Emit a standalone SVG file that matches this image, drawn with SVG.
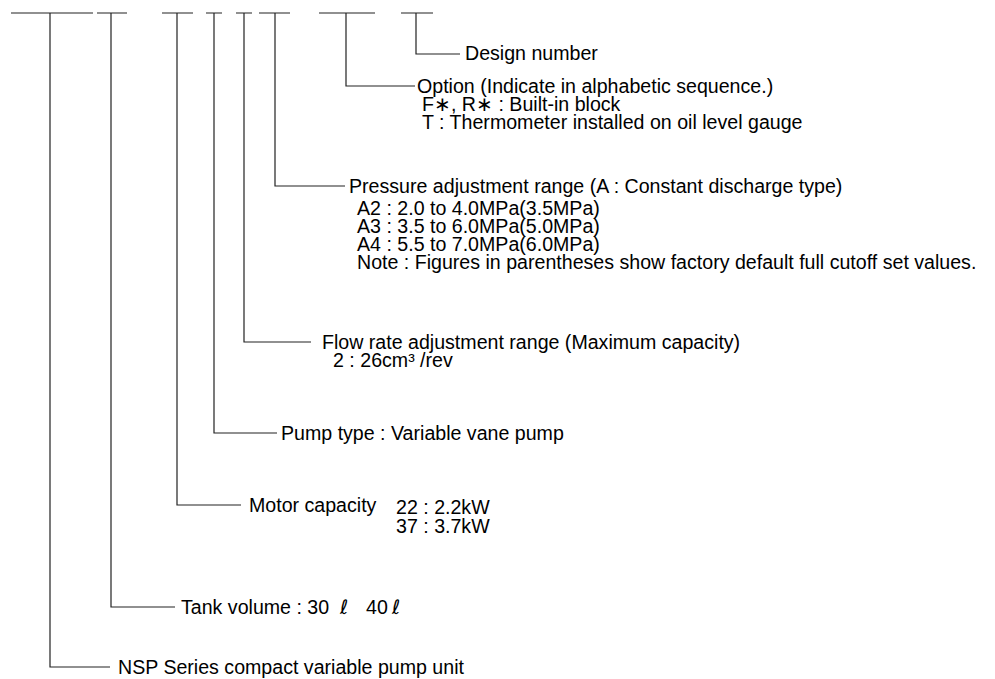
<svg xmlns="http://www.w3.org/2000/svg" width="995" height="679" viewBox="0 0 995 679">
<style>
text{font-family:"Liberation Sans",Arial,sans-serif;font-size:19.6px;fill:#000}
.ln{stroke:#222;stroke-width:1.2;fill:none}
.sl{font-family:"DejaVu Sans","Liberation Serif",serif;font-style:italic;font-size:20px}
</style>
<rect width="995" height="679" fill="#fff"/>
<g id="connectors">
<path class="ln" d="M11 13H93M97 13H127M162 13H193M206 13H222M236 13H252M259 13H290M319 13H375M401 13H433"/>
<path class="ln" d="M416 13V54H460"/>
<path class="ln" d="M346 13V86H415"/>
<path class="ln" d="M275 13V186H345"/>
<path class="ln" d="M244 13V342H311"/>
<path class="ln" d="M214 13V433H277"/>
<path class="ln" d="M177 13V505H241"/>
<path class="ln" d="M111 13V607H175"/>
<path class="ln" d="M50 13V667H110"/>
</g>
<g id="design"><text x="465" y="60">Design number</text></g>
<g id="option">
<text x="417" y="93">Option (Indicate in alphabetic sequence.)</text>
<text x="422" y="111">F∗, R∗ : Built-in block</text>
<text x="422" y="129">T : Thermometer installed on oil level gauge</text>
</g>
<g id="pressure">
<text x="349" y="193">Pressure adjustment range (A : Constant discharge type)</text>
<text x="357" y="215">A2 : 2.0 to 4.0MPa(3.5MPa)</text>
<text x="357" y="233">A3 : 3.5 to 6.0MPa(5.0MPa)</text>
<text x="357" y="251">A4 : 5.5 to 7.0MPa(6.0MPa)</text>
<text x="357" y="269">Note : Figures in parentheses show factory default full cutoff set values.</text>
</g>
<g id="flow">
<text x="322" y="349">Flow rate adjustment range (Maximum capacity)</text>
<text x="333" y="367">2 : 26cm³ /rev</text>
</g>
<g id="pump"><text x="281" y="440">Pump type : Variable vane pump</text></g>
<g id="motor">
<text x="249" y="512">Motor capacity</text>
<text x="396" y="514">22 : 2.2kW</text>
<text x="396" y="533">37 : 3.7kW</text>
</g>
<g id="tank"><text x="181" y="614">Tank volume : 30<tspan class="sl" x="340">ℓ</tspan><tspan x="366">40</tspan><tspan class="sl" x="392">ℓ</tspan></text></g>
<g id="series"><text x="118" y="674">NSP Series compact variable pump unit</text></g>
</svg>
